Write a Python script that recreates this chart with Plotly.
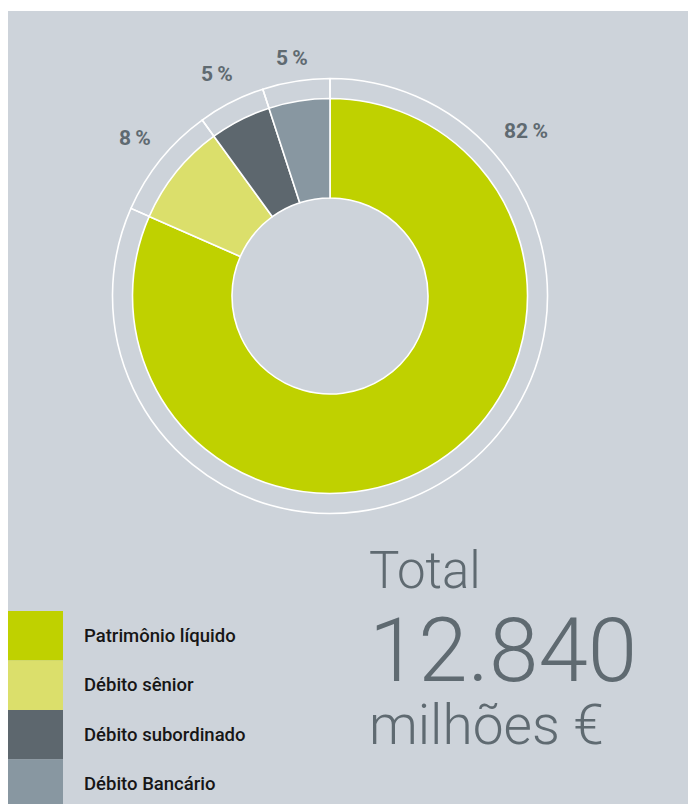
import math
import plotly.graph_objects as go

# ---------------- data ----------------
categories = ["Patrimônio líquido", "Débito sênior", "Débito subordinado", "Débito Bancário"]
shares = [81.6, 8.4, 5.0, 5.0]
colors = ["#bfd100", "#dbdf6b", "#5d676e", "#8897a1"]
total_label = "Total"
total_value = "12.840"
total_unit = "milhões €"

# ---------------- layout constants ----------------
W, H = 688, 804
BG = "#cdd3da"
TXT = "#5f6a71"
cx, cy = 330, 296          # donut centre (px)
R = 197.5                  # donut outer radius
R_HOLE = 98
R_RING = 217.5             # thin outer ring
LABEL_R = [256, 251, 249, 241]
LABEL_ANGLE_BIG = 50

def px(x):
    return x / W

def py(y):
    return 1 - y / H

fig = go.Figure()

# outer thin ring (transparent with white outline)
fig.add_trace(go.Pie(
    values=shares, labels=categories, sort=False, direction="clockwise", rotation=0,
    hole=(R - 12) / R_RING,
    marker=dict(colors=["rgba(0,0,0,0)"] * len(shares), line=dict(color="white", width=1.6)),
    textinfo="none", hoverinfo="skip", showlegend=False,
    domain=dict(x=[px(cx - R_RING), px(cx + R_RING)], y=[py(cy + R_RING), py(cy - R_RING)]),
))

# main donut
fig.add_trace(go.Pie(
    values=shares, labels=categories, sort=False, direction="clockwise", rotation=0,
    hole=R_HOLE / R,
    marker=dict(colors=colors, line=dict(color="white", width=1.6)),
    textinfo="none", showlegend=False,
    domain=dict(x=[px(cx - R), px(cx + R)], y=[py(cy + R), py(cy - R)]),
))

shapes = [dict(type="rect", xref="paper", yref="paper", x0=px(8), x1=1, y0=0, y1=py(11),
               fillcolor=BG, line=dict(width=0), layer="below")]
annotations = []

# percentage labels outside the ring
total = sum(shares)
cum = 0
for i, v in enumerate(shares):
    mid = (cum + v / 2) / total * 360
    cum += v
    ang = LABEL_ANGLE_BIG if i == 0 else mid
    a = math.radians(ang)
    lx = cx + LABEL_R[i] * math.sin(a)
    ly = cy - LABEL_R[i] * math.cos(a)
    annotations.append(dict(
        x=px(lx), y=py(ly), xref="paper", yref="paper", showarrow=False,
        text=f"{round(v)}\u2009%", xanchor="center", yanchor="middle",
        font=dict(family="Roboto", size=21, color=TXT, weight="bold"),
    ))

# legend blocks
row_top, row_h = 611, 49.5
for i, (c, col) in enumerate(zip(categories, colors)):
    y0 = row_top + i * row_h
    shapes.append(dict(type="rect", xref="paper", yref="paper",
                       x0=px(8), x1=px(63), y0=py(y0 + row_h), y1=py(y0),
                       fillcolor=col, line=dict(width=0), layer="below"))
    annotations.append(dict(
        x=px(82), y=py(y0 + row_h / 2), xref="paper", yref="paper", showarrow=False,
        text=c, xanchor="left", yanchor="middle",
        font=dict(family="Roboto", size=18.5, color="#161616", weight=500),
    ))

# total text
annotations += [
    dict(x=px(367), y=py(570), xref="paper", yref="paper", showarrow=False, text=total_label,
         xanchor="left", yanchor="middle", font=dict(family="Roboto", size=51, color=TXT, weight=300)),
    dict(x=px(367), y=py(650), xref="paper", yref="paper", showarrow=False, text=total_value,
         xanchor="left", yanchor="middle", font=dict(family="Roboto", size=89, color=TXT, weight=300)),
    dict(x=px(367), y=py(725), xref="paper", yref="paper", showarrow=False, text=total_unit,
         xanchor="left", yanchor="middle", font=dict(family="Roboto", size=55, color=TXT, weight=300)),
]

fig.update_layout(
    width=W, height=H, margin=dict(l=0, r=0, t=0, b=0),
    paper_bgcolor="white", plot_bgcolor="white",
    shapes=shapes, annotations=annotations, showlegend=False,
)

fig.write_html(
    "out.html",
    config={"displayModeBar": False},
    post_script=(
        "document.body.style.margin='0';"
        "document.body.style.overflow='hidden';"
        f"document.documentElement.style.background='{BG}';"
        f"document.body.style.background='{BG}';"
    ),
)
